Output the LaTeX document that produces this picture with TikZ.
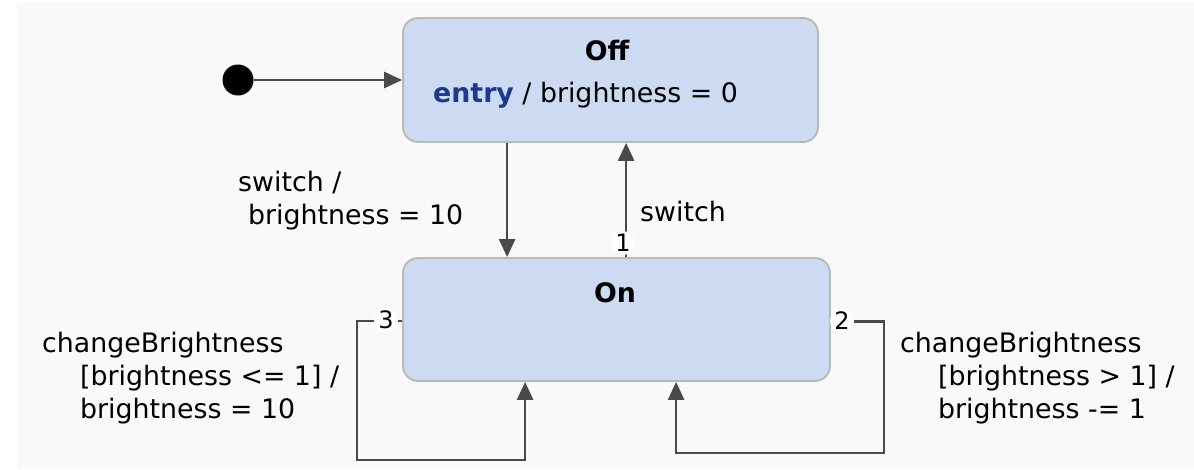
\documentclass[tikz,border=0pt]{standalone}
\usepackage{fontspec}
\setmainfont{DejaVu Sans}
\usetikzlibrary{arrows.meta}
\definecolor{bgc}{HTML}{F9F9F9}
\definecolor{boxfill}{HTML}{CCDBF2}
\definecolor{boxline}{HTML}{B8B8B8}
\definecolor{linec}{HTML}{4A4A4A}
\definecolor{kw}{HTML}{1C3A8C}
\tikzset{
  statebox/.style={draw=boxline, line width=1.8pt, fill=boxfill, rounded corners=15pt, inner sep=0pt},
  arr/.style={draw=linec, line width=2.7pt, -{Triangle[length=18pt,width=16pt]}},
  txt/.style={inner sep=0pt, anchor=base west, font=\fontsize{26.8}{33}\selectfont},
  ttl/.style={inner sep=0pt, anchor=base, font=\fontsize{26.8}{33}\selectfont\bfseries},
  prio/.style={circle, fill=white, inner sep=0pt, minimum size=24pt, font=\fontsize{24}{28}\selectfont},
}
\begin{document}
\begin{tikzpicture}[x=1pt,y=-1pt]
\useasboundingbox (0,0) rectangle (1194,469);
\fill[white] (0,0) rectangle (1194,469);
\fill[bgc] (17,3) rectangle (1194,469);

\node[statebox, minimum width=415pt, minimum height=124pt] (off) at (610.5,80) {};
\node[statebox, minimum width=427pt, minimum height=123pt] (on) at (616.5,319.5) {};

\node[ttl] (offt) at (607,60) {Off};
\node[txt] (offe) at (433,102) {\textbf{\textcolor{kw}{entry}} / brightness = 0};
\node[ttl] (ont) at (615,302) {On};

\node[circle, fill=black, minimum size=31pt, inner sep=0pt] (init) at (238,80) {};
\draw[arr] (init.east) -- (off.west);

% Off -> On
\draw[arr] ([xshift=105pt]off.south west) -- ([xshift=105pt]on.north west);
\node[txt] (s1) at (238,191) {switch /};
\node[txt] (s2) at (248,224) {brightness = 10};

% On -> Off
\draw[arr] ([xshift=224pt]on.north west) -- ([xshift=224pt]off.south west);
\node[txt] (s3) at (640,221) {switch};
\node[prio] (p1) at (623,243) {1};

% loop 3 (left)
\draw[arr] ([yshift=-1.5pt]on.west) -- ++(-45,0) -- ++(0,139) -| ([xshift=123pt]on.south west);
\node[prio] (p3) at (386,320) {3};
\node[txt] (l1) at (42,352) {changeBrightness};
\node[txt] (l2) at (80,385) {[brightness <= 1] /};
\node[txt] (l3) at (80,418) {brightness = 10};

% loop 2 (right)
\draw[arr] ([yshift=-2pt]on.east) -- ++(53,0) -- ++(0,131.5) -| ([xshift=274pt]on.south west);
\node[prio] (p2) at (842,321) {2};
\node[txt] (r1) at (900,352) {changeBrightness};
\node[txt] (r2) at (938,385) {[brightness > 1] /};
\node[txt] (r3) at (938,418) {brightness -= 1};
\end{tikzpicture}
\end{document}
